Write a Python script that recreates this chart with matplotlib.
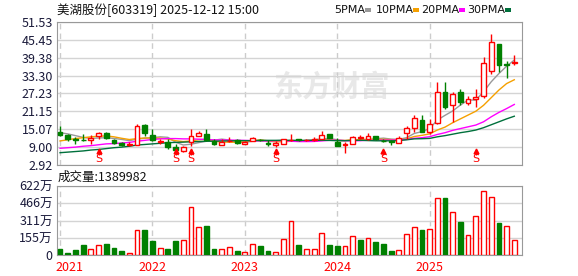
import matplotlib
matplotlib.use("Agg")
import matplotlib.pyplot as plt
import matplotlib.transforms as mtransforms
import numpy as np

plt.rcParams['font.family'] = ['Noto Sans CJK SC', 'DejaVu Sans']

# 月K数据 2021-01 ~ 2025-12
opens = [14.06, 13.0, 11.7, 11.5, 11.4, 12.7, 13.8, 11.5, 10.4, 9.55,
         9.7, 16.4, 13.0, 10.9, 10.8, 8.9, 7.75, 10.6, 12.8, 13.3,
         11.0, 9.8, 11.0, 11.4, 10.1, 11.1, 11.5, 10.4, 9.7, 10.2,
         11.3, 11.6, 11.4, 11.5, 11.7, 13.3, 10.8, 9.8, 10.2, 12.2,
         11.7, 12.7, 11.2, 10.9, 10.5, 13.8, 15.6, 18.3, 14.2, 17.2,
         27.6, 23.4, 27.6, 24.1, 25.4, 26.5, 35.0, 44.0, 37.3, 37.6]
closes = [13.1, 11.7, 11.55, 11.35, 12.1, 13.8, 12.1, 10.4, 9.7, 10.0,
          16.3, 13.7, 11.4, 11.1, 9.1, 8.0, 9.0, 12.7, 13.8, 11.4,
          9.9, 10.8, 11.1, 10.4, 10.8, 12.0, 11.4, 9.9, 10.4, 11.6,
          11.5, 11.55, 11.5, 11.6, 13.0, 12.1, 9.4, 10.0, 12.5, 12.4,
          12.7, 11.6, 11.1, 10.8, 12.0, 15.5, 18.8, 14.2, 17.0, 27.9,
          22.8, 27.1, 24.3, 25.2, 26.2, 37.7, 44.8, 36.8, 37.0, 38.0]
highs = [16.1, 13.4, 12.3, 13.6, 13.0, 14.2, 14.2, 11.9, 10.9, 10.6,
         17.0, 16.75, 15.1, 11.6, 11.6, 10.2, 9.3, 15.3, 14.4, 15.0,
         11.9, 11.9, 12.3, 11.9, 11.1, 12.3, 11.8, 11.4, 11.0, 11.9,
         13.4, 11.9, 11.9, 12.5, 14.4, 13.6, 12.1, 10.8, 12.8, 13.0,
         13.9, 12.8, 11.6, 11.4, 12.7, 16.1, 19.8, 19.8, 18.7, 31.3,
         31.3, 27.9, 28.6, 26.3, 28.8, 39.5, 47.4, 44.0, 38.4, 40.4]
lows = [12.8, 11.0, 10.0, 11.0, 10.2, 11.9, 11.9, 9.9, 9.4, 9.4,
        9.6, 12.9, 11.0, 10.2, 8.5, 7.1, 7.5, 9.3, 12.7, 11.2,
        9.7, 9.7, 10.7, 9.9, 10.0, 11.0, 11.2, 9.3, 9.0, 10.0,
        11.0, 11.2, 11.0, 11.2, 11.6, 12.0, 9.3, 7.1, 10.0, 11.9,
        11.5, 11.5, 10.6, 9.8, 10.4, 11.9, 14.2, 14.0, 13.6, 17.0,
        22.0, 17.5, 23.4, 23.4, 22.6, 25.8, 33.9, 34.7, 32.4, 36.9]

ma5 = [13.9, 13.5, 12.9, 12.3, 11.96, 12.1, 12.18, 11.95, 11.62, 11.2,
       11.7, 12.02, 12.22, 12.5, 12.32, 10.66, 9.72, 9.98, 10.52, 10.98,
       11.36, 11.72, 11.4, 10.72, 10.6, 11.02, 11.14, 10.9, 10.9, 11.06,
       10.96, 10.99, 11.29, 11.53, 11.81, 11.93, 11.5, 11.22, 11.4, 11.28,
       11.4, 11.84, 12.06, 11.72, 11.64, 12.2, 13.64, 14.26, 15.3, 18.2,
       19.8, 21.3, 23.3, 25.0, 25.0, 27.8, 31.2, 34.0, 36.5, 38.6]
ma10 = [11.1, 11.5, 11.9, 12.2, 12.5, 12.7, 12.8, 12.5, 12.0, 11.58,
        11.9, 12.1, 12.09, 12.06, 11.76, 11.18, 10.87, 11.1, 11.51, 11.65,
        11.01, 10.72, 10.69, 10.62, 10.79, 11.19, 11.43, 11.15, 10.81, 10.83,
        10.99, 11.07, 11.1, 11.2, 11.4, 11.45, 11.25, 11.26, 11.47, 11.55,
        11.67, 11.67, 11.64, 11.56, 11.46, 11.8, 12.6, 13.0, 13.5, 14.8,
        15.8, 17.3, 18.6, 19.9, 21.2, 23.2, 25.8, 28.4, 30.6, 31.9]
ma20 = [8.6, 8.8, 9.0, 9.3, 9.5, 9.8, 10.1, 10.2, 10.4, 10.6,
        11.0, 11.3, 11.6, 11.8, 11.9, 11.9, 11.8, 11.8, 11.7, 11.6,
        11.46, 11.41, 11.39, 11.34, 11.28, 11.19, 11.15, 11.13, 11.16, 11.24,
        11.0, 10.89, 10.89, 10.92, 11.11, 11.32, 11.34, 11.2, 11.14, 11.19,
        11.33, 11.37, 11.37, 11.39, 11.45, 11.62, 11.99, 12.21, 12.54, 13.3,
        13.9, 14.7, 15.3, 15.9, 16.5, 17.6, 19.3, 20.8, 22.1, 23.5]
ma30 = [7.1, 7.3, 7.5, 7.7, 8.0, 8.2, 8.5, 8.8, 9.0, 9.3,
        9.7, 9.9, 10.1, 10.3, 10.5, 10.6, 10.7, 10.8, 10.9, 11.0,
        11.0, 11.1, 11.1, 11.2, 11.2, 11.2, 11.3, 11.3, 11.3, 11.35,
        11.3, 11.3, 11.29, 11.3, 11.33, 11.27, 11.18, 11.17, 11.26, 11.34,
        11.22, 11.15, 11.14, 11.13, 11.23, 11.48, 11.8, 11.86, 11.96, 12.5,
        12.9, 13.4, 13.9, 14.3, 14.8, 15.6, 16.6, 17.6, 18.6, 19.5]

# 成交量(万) 和 涨跌(1=红 0=绿)
volume = [54, 21, 45, 90, 54, 90, 99, 63, 36, 21,
          225, 225, 126, 63, 54, 126, 135, 432, 252, 261,
          54, 54, 72, 36, 27, 99, 81, 36, 27, 144,
          304, 88, 58, 58, 195, 88, 79, 85, 168, 134,
          149, 116, 98, 34, 49, 189, 250, 226, 232, 515,
          515, 387, 299, 177, 351, 580, 525, 290, 259, 139]
vol_up = [0, 0, 0, 0, 1, 1, 0, 0, 0, 1,
          1, 0, 0, 1, 0, 0, 1, 1, 1, 0,
          0, 1, 1, 0, 1, 1, 0, 0, 1, 1,
          1, 0, 1, 1, 1, 0, 0, 1, 1, 0,
          1, 0, 0, 0, 1, 1, 1, 0, 1, 1,
          0, 1, 0, 1, 1, 1, 1, 0, 1, 1]

s_marks = [5, 15, 17, 28, 42, 54]
year_pos = [0, 12, 24, 36, 48]
year_labels = ["2021", "2022", "2023", "2024", "2025"]
price_ticks = [2.92, 9.00, 15.07, 21.15, 27.23, 33.30, 39.38, 45.45, 51.53]
vol_ticks = [0, 155, 311, 466, 622]
vol_tick_labels = ["0", "155万", "311万", "466万", "622万"]

RED = "#ff0000"
GREEN = "#008000"
TXT = "#1a1a3a"

fig = plt.figure(figsize=(5.78, 2.76), dpi=100)
ax = fig.add_axes([57/578, 1-165/276, 465/578, 143/276])
axv = fig.add_axes([57/578, 1-255/276, 465/578, 69/276])

x = np.arange(len(closes))
w = 0.62

for i in x:
    o, c, h, l = opens[i], closes[i], highs[i], lows[i]
    up = c >= o
    col = RED if up else GREEN
    top, bot = max(o, c), min(o, c)
    ax.vlines(i, top, h, color=col, lw=1, zorder=3)
    ax.vlines(i, l, bot, color=col, lw=1, zorder=3)
    hgt = max(top - bot, 0.12)
    if up:
        ax.bar(i, hgt, w, bottom=bot, facecolor="white", edgecolor=col, lw=1, zorder=4)
    else:
        ax.bar(i, hgt, w, bottom=bot, facecolor=col, edgecolor=col, lw=1, zorder=4)

ax.plot(x, ma5, color="#999999", lw=1, zorder=2)
ax.plot(x, ma10, color="#f5a000", lw=1, zorder=2)
ax.plot(x, ma20, color="#ff00ff", lw=1, zorder=2)
ax.plot(x, ma30, color="#00703c", lw=1, zorder=2)

# S 标记
for i in s_marks:
    ax.plot(i, 7.6, marker="^", color=RED, ms=3.5, zorder=5)
    ax.vlines(i, 6.4, 7.4, color=RED, lw=1, zorder=5)
    ax.text(i, 4.9, "S", color=RED, fontsize=8, ha="center", va="center",
            family=["DejaVu Sans"], zorder=5)

# 水印
ax.text(0.59, 0.55, "东方财富", transform=ax.transAxes, fontsize=21,
        fontweight="bold", color="#e8e8e8", ha="center", va="center", zorder=1)

ax.set_xlim(-0.4, 60.0)
ax.set_ylim(2.92, 51.53)
ax.set_yticks(price_ticks)
ax.set_yticklabels(["%.2f" % t for t in price_ticks])
ax.set_xticks(year_pos)
ax.set_xticklabels([])
ax.tick_params(length=0, labelsize=9, colors=TXT, pad=3)
ax.grid(axis="y", color="#d4d4d4", lw=1)
ax.grid(axis="x", color="#cccccc", lw=1, ls=(0, (4, 3)))
for s in ax.spines.values():
    s.set_color("#999999")

for i in x:
    col = RED if vol_up[i] else GREEN
    if vol_up[i]:
        axv.bar(i, volume[i], w, facecolor="white", edgecolor=col, lw=1, zorder=3)
    else:
        axv.bar(i, volume[i], w, facecolor=col, edgecolor=col, lw=1, zorder=3)

axv.set_xlim(-0.4, 60.0)
axv.set_ylim(0, 622)
axv.set_yticks(vol_ticks)
axv.set_yticklabels(vol_tick_labels)
axv.set_xticks(year_pos)
axv.set_xticklabels(year_labels)
axv.tick_params(length=0, labelsize=9, colors=TXT, pad=3)
axv.tick_params(axis="x", colors=RED, pad=4)
axv.grid(axis="y", color="#d4d4d4", lw=1)
axv.grid(axis="x", color="#cccccc", lw=1, ls=(0, (4, 3)))
for s in axv.spines.values():
    s.set_color("#999999")

# 2021 标签靠左放，避开 0
first = axv.get_xticklabels()[0]
first.set_ha("left")
first.set_transform(first.get_transform() + mtransforms.ScaledTranslation(-5/100, 0, fig.dpi_scale_trans))

fig.text(57/578, 1-10/276, "美湖股份[603319] 2025-12-12 15:00", fontsize=9,
         color="#111111", va="center", ha="left")
fig.text(58/578, 1-177/276, "成交量:1389982", fontsize=9, color="#111111",
         va="center", ha="left")

# 图例（位置按原图）
leg_items = [("5PMA", "#999999"), ("10PMA", "#f5a000"), ("20PMA", "#ff00ff"), ("30PMA", "#00703c")]
leg_x = [338, 380, 425, 471]
leg_w = [24, 30, 31, 31]
for (name, col), px, tw in zip(leg_items, leg_x, leg_w):
    fig.text((px + tw/2)/578, 1-10/276, name, fontsize=8, color="#111111",
             va="center", ha="center", family=["Liberation Sans Narrow", "DejaVu Sans"])
    fig.patches.append(plt.Rectangle(((px + tw + 3)/578, 1-12/276), 6/578, 4/276,
                                     transform=fig.transFigure, facecolor=col, edgecolor="none"))

fig.savefig("out.png", dpi=100)
